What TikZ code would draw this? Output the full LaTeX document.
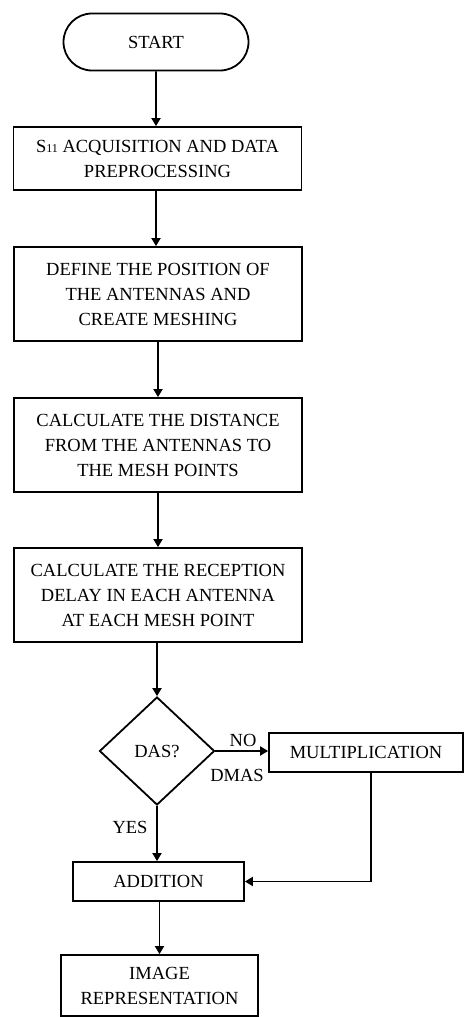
\documentclass[tikz,border=0pt]{standalone}
\usepackage{fontspec}
\setmainfont{Liberation Serif}
\usetikzlibrary{arrows.meta,shapes.misc,shapes.geometric}
\tikzset{
  box/.style={draw,line width=1.8pt,inner sep=0pt,align=center,font=\fontsize{18.5}{25}\selectfont},
  term/.style={box,rounded rectangle},
  dia/.style={draw,line width=1.8pt,diamond,inner sep=0pt,font=\fontsize{18.5}{25}\selectfont},
  lbl/.style={font=\fontsize{18.5}{20}\selectfont,inner sep=0pt},
  arr/.style={line width=1.8pt,-{Triangle[length=8pt,width=9pt]}}
}
\begin{document}
\begin{tikzpicture}[x=1pt,y=-1pt]
\useasboundingbox (0,0) rectangle (465,1017);
\node[term,minimum width=185pt,minimum height=57pt] (start) at (156,42) {START};
\node[box,minimum width=288pt,minimum height=63pt] (b1) at (157.5,158.5) {S\raisebox{-0.1ex}{\fontsize{12}{12}\selectfont 11} ACQUISITION AND DATA\\PREPROCESSING};
\node[box,minimum width=288pt,minimum height=94pt] (b2) at (158,294) {DEFINE THE POSITION OF\\THE ANTENNAS AND\\CREATE MESHING};
\node[box,minimum width=288pt,minimum height=94pt] (b3) at (158,445) {CALCULATE THE DISTANCE\\FROM THE ANTENNAS TO\\THE MESH POINTS};
\node[box,minimum width=288pt,minimum height=94pt] (b4) at (158,595) {CALCULATE THE RECEPTION\\DELAY IN EACH ANTENNA\\AT EACH MESH POINT};
\node[dia,minimum width=115pt,minimum height=108pt] (dec) at (157,751) {DAS?};
\node[box,minimum width=194pt,minimum height=39pt] (mult) at (366,752.5) {MULTIPLICATION};
\node[box,minimum width=171pt,minimum height=39pt] (add) at (158.5,881.5) {ADDITION};
\node[box,minimum width=197pt,minimum height=61pt] (img) at (159.5,985.5) {IMAGE\\REPRESENTATION};
\node[lbl] (no) at (243,740) {NO};
\node[lbl] (dmas) at (237,775) {DMAS};
\node[lbl] (yes) at (130,827) {YES};
\draw[arr] (start) -- (start |- b1.north);
\draw[arr] (b1.south -| start) -- (start |- b2.north);
\draw[arr] (b2) -- (b3);
\draw[arr] (b3) -- (b4);
\draw[arr] (b4.south -| dec) -- (dec.north);
\draw[arr] (dec.east) -- (dec.east -| mult.west);
\draw[arr] (dec.south) -- (dec.south |- add.north);
\draw[arr] ([xshift=5pt]mult.south) |- (add.east);
\draw[arr] (add.south -| img) -- (img.north);
\end{tikzpicture}
\end{document}
